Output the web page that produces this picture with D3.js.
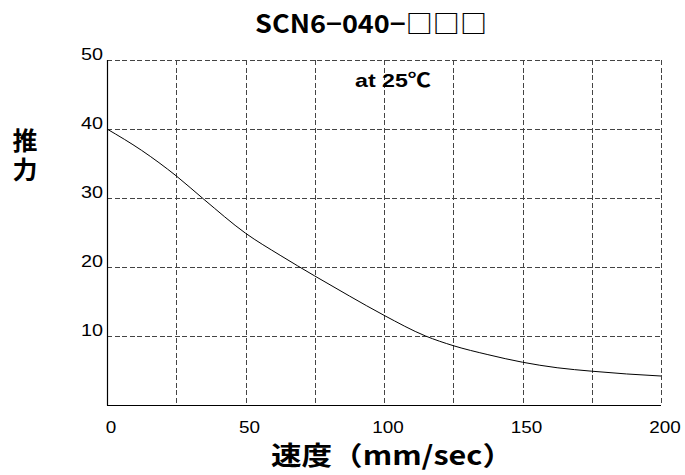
<!DOCTYPE html>
<html><head><meta charset="utf-8">
<script src="https://cdn.jsdelivr.net/npm/d3@7"></script>
<style>body{margin:0;background:#fff}svg{display:block}</style>
</head><body>
<script>
const speed = [0, 12.5, 25, 35, 50, 62.5, 75, 87.5, 100, 115, 125, 137.5, 150, 162.5, 175, 187.5, 200];
const thrust = [40, 36.9, 33.2, 29.8, 24.9, 21.7, 18.7, 15.8, 13.0, 10, 8.6, 7.3, 6.2, 5.4, 4.9, 4.5, 4.2];
const xTicks = [0, 50, 100, 150, 200];
const xGrid = [25, 50, 75, 100, 125, 150, 175, 200];
const yTicks = [10, 20, 30, 40, 50];
const title = "SCN6\u2212040\u2212\u25A1\u25A1\u25A1";
const note = "at 25\u2103";
const xTitle = "速度（mm/sec）";
const yTitle = "推力";

const W = 685, H = 475;
const svg = d3.select("body").append("svg").attr("width", W).attr("height", H);
const x = d3.scaleLinear().domain([0, 200]).range([107, 661]);
const y = d3.scaleLinear().domain([0, 50]).range([405, 60]);

const grid = svg.append("g").attr("stroke", "#444").attr("stroke-width", 1).attr("stroke-dasharray", "5,2.5").attr("shape-rendering", "crispEdges");
grid.selectAll("line.h").data(yTicks).join("line")
  .attr("x1", x(0)).attr("x2", x(200)).attr("y1", d => Math.round(y(d)) + 0.5).attr("y2", d => Math.round(y(d)) + 0.5);
grid.selectAll("line.v").data(xGrid).join("line")
  .attr("x1", d => Math.round(x(d)) + 0.5).attr("x2", d => Math.round(x(d)) + 0.5).attr("y1", y(50)).attr("y2", y(0));

// axes
svg.append("line").attr("x1", x(0) + 0.5).attr("x2", x(0) + 0.5).attr("y1", y(50)).attr("y2", y(0) + 0.5).attr("stroke", "#000").attr("stroke-width", 1.2);
svg.append("line").attr("x1", x(0)).attr("x2", x(200)).attr("y1", y(0) + 0.5).attr("y2", y(0) + 0.5).attr("stroke", "#000").attr("stroke-width", 1.2);

// curve
const data = speed.map((s, i) => [s, thrust[i]]);
svg.append("path").datum(data)
  .attr("fill", "none").attr("stroke", "#000").attr("stroke-width", 1)
  .attr("d", d3.line().x(d => x(d[0])).y(d => y(d[1])).curve(d3.curveMonotoneX));

const tickFont = "'Liberation Sans', Arial, sans-serif";
svg.selectAll("text.yt").data(yTicks).join("text")
  .attr("x", 103).attr("y", d => y(d)).attr("text-anchor", "end")
  .attr("font-family", tickFont).attr("font-size", 16).attr("fill", "#000")
  .attr("textLength", 22).attr("lengthAdjust", "spacingAndGlyphs").text(d => d);
svg.selectAll("text.xt").data(xTicks).join("text")
  .attr("x", d => x(d) + 4).attr("y", 433).attr("text-anchor", "middle")
  .attr("font-family", tickFont).attr("font-size", 16).attr("fill", "#000")
  .attr("textLength", d => String(d).length * 10.5).attr("lengthAdjust", "spacingAndGlyphs").text(d => d);

svg.append("text").attr("x", 371).attr("y", 33).attr("text-anchor", "middle")
  .attr("font-family", "'Noto Sans CJK JP', sans-serif").attr("font-weight", "bold").attr("font-size", 25)
  .attr("textLength", 232).attr("lengthAdjust", "spacingAndGlyphs").text(title);
svg.append("text").attr("x", 393).attr("y", 87).attr("text-anchor", "middle")
  .attr("font-family", "'Liberation Sans', 'Noto Sans CJK JP', sans-serif").attr("font-weight", "bold").attr("font-size", 19)
  .attr("textLength", 76).attr("lengthAdjust", "spacingAndGlyphs").text(note);
svg.append("text").attr("x", 392).attr("y", 465).attr("text-anchor", "middle")
  .attr("font-family", "'Noto Sans CJK JP', sans-serif").attr("font-weight", "bold").attr("font-size", 26)
  .attr("textLength", 242).attr("lengthAdjust", "spacingAndGlyphs").text(xTitle);
svg.append("text").attr("x", 25).attr("y", 128)
  .attr("writing-mode", "vertical-rl").attr("letter-spacing", 4)
  .attr("font-family", "'Noto Sans CJK JP', sans-serif").attr("font-weight", "bold").attr("font-size", 25)
  .text(yTitle);
</script>
</body></html>
